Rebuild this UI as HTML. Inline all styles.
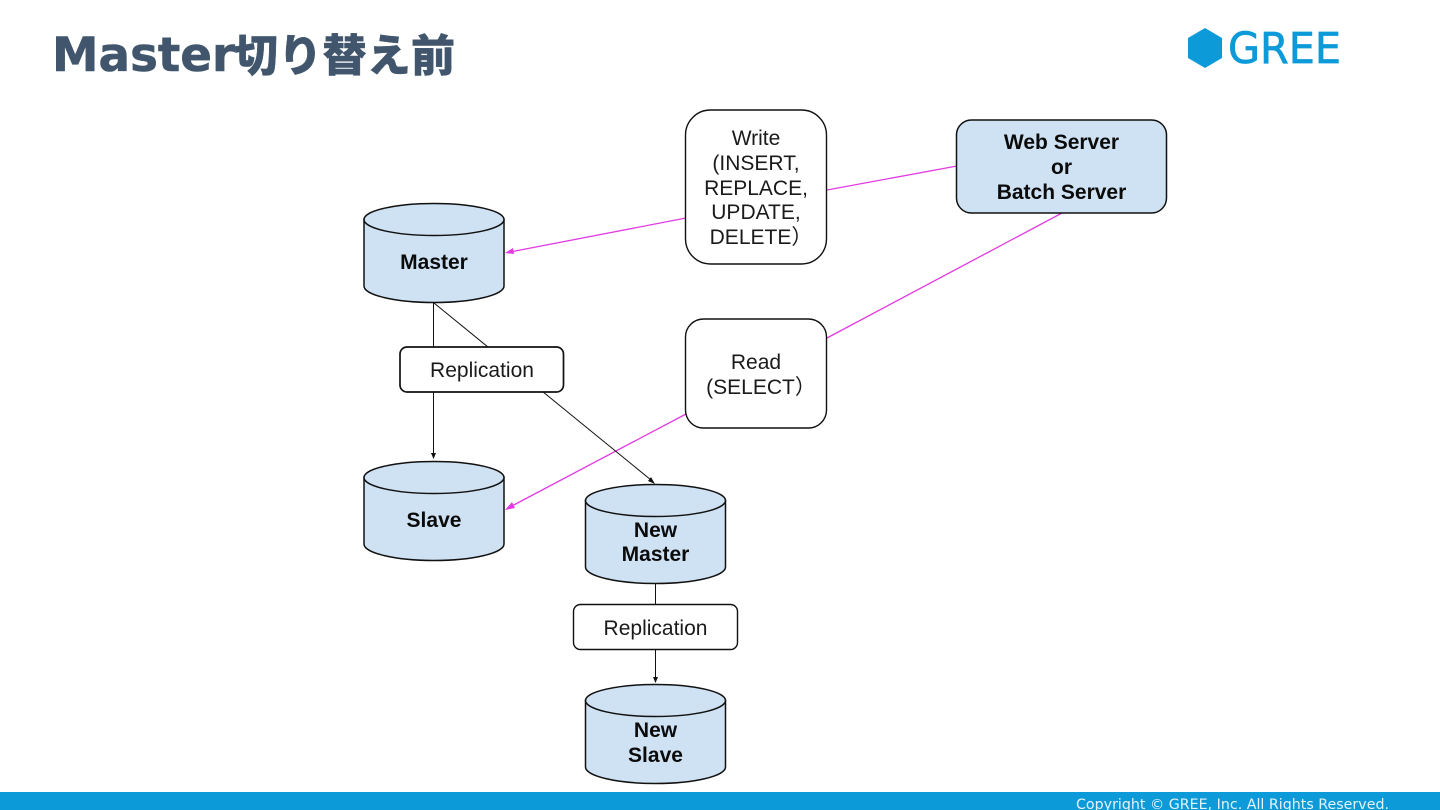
<!DOCTYPE html>
<html>
<head>
<meta charset="utf-8">
<style>
html,body{margin:0;padding:0;background:#fff;width:1440px;height:810px;overflow:hidden}
svg{display:block}
.l{font-family:"Liberation Sans","Noto Sans CJK JP",sans-serif;font-size:21px;fill:#1a1a1a;text-anchor:middle}
.b{font-family:"Liberation Sans",sans-serif;font-size:21px;font-weight:bold;fill:#0b0b0b;text-anchor:middle}
.c{fill:#cfe2f3;stroke:#111;stroke-width:1.5}
.r{fill:#fff;stroke:#111;stroke-width:1.4}
.k{stroke:#111;stroke-width:1;fill:none}
.m{stroke:#e23be2;stroke-width:1.3;fill:none}
</style>
</head>
<body>
<svg width="1440" height="810" viewBox="0 0 1440 810" xmlns="http://www.w3.org/2000/svg">
<defs>
<g id="cyl">
<path class="c" d="M0 16.500V83C0 92 31 99.500 70 99.500S140 92 140 83V16.500Z"/>
<ellipse class="c" cx="70" cy="16.500" rx="70" ry="16"/>
</g>
</defs>

<text x="52" y="71" font-family="'DejaVu Sans',sans-serif" font-weight="bold" font-size="47" fill="#41566c" stroke="#41566c" stroke-width="0.6" textLength="183" lengthAdjust="spacingAndGlyphs">Master</text>
<text x="234" y="71" font-family="'Noto Sans CJK JP',sans-serif" font-weight="900" font-size="44" fill="#41566c" stroke="#41566c" stroke-width="0.4" textLength="221" lengthAdjust="spacing">切り替え前</text>

<polygon points="1205,28 1222,38 1222,58 1205,68 1188,58 1188,38" fill="#0c9ad8"/>
<text x="1228" y="63" font-family="'DejaVu Sans',sans-serif" font-size="43" fill="#0c9ad8" stroke="#0c9ad8" stroke-width="0.7" textLength="113" lengthAdjust="spacingAndGlyphs">GREE</text>

<line class="m" x1="686" y1="218" x2="510" y2="252"/>
<polygon points="505,253 513,248 514,254" fill="#e23be2"/>
<line class="m" x1="827" y1="190" x2="957" y2="166"/>
<line class="m" x1="827" y1="338" x2="1062" y2="213"/>
<line class="m" x1="686" y1="414" x2="510" y2="507"/>
<polygon points="505,510 512,502 515,508" fill="#e23be2"/>

<line class="k" x1="433.500" y1="303" x2="433.500" y2="455"/>
<polygon points="433.500,459 431,453 436,453" fill="#111"/>
<line class="k" x1="434" y1="303" x2="651" y2="480"/>
<polygon points="655,484 648,481 651,477" fill="#111"/>
<line class="k" x1="655.500" y1="583" x2="655.500" y2="678"/>
<polygon points="655.500,683 653,677 658,677" fill="#111"/>

<rect class="r" x="685.500" y="110" width="141" height="154" rx="25"/>
<text class="l" x="756" y="145">Write</text>
<text class="l" x="756" y="170">(INSERT,</text>
<text class="l" x="756" y="195">REPLACE,</text>
<text class="l" x="756" y="219">UPDATE,</text>
<text class="l" x="761" y="244">DELETE）</text>

<rect class="r" x="685.500" y="319" width="141" height="109" rx="18"/>
<text class="l" x="756" y="369">Read</text>
<text class="l" x="761" y="394">(SELECT）</text>

<rect class="c" x="956.500" y="120" width="210" height="93" rx="15"/>
<text class="b" x="1061.500" y="149">Web Server</text>
<text class="b" x="1061.500" y="174">or</text>
<text class="b" x="1061.500" y="199">Batch Server</text>

<rect class="r" x="400" y="347" width="163.500" height="45" rx="7" style="stroke-width:1.700"/>
<text class="l" x="482" y="377">Replication</text>
<rect class="r" x="573.500" y="604.500" width="164" height="45" rx="7"/>
<text class="l" x="655.500" y="635">Replication</text>

<use href="#cyl" x="364" y="203"/>
<text class="b" x="434" y="269">Master</text>
<use href="#cyl" x="364" y="461"/>
<text class="b" x="434" y="527">Slave</text>
<use href="#cyl" x="585.500" y="484"/>
<text class="b" x="655.500" y="537">New</text>
<text class="b" x="655.500" y="561">Master</text>
<use href="#cyl" x="585.500" y="684"/>
<text class="b" x="655.500" y="737">New</text>
<text class="b" x="655.500" y="762">Slave</text>

<rect x="0" y="792" width="1440" height="18" fill="#0c9ad8"/>
<text x="1076" y="809" font-family="'DejaVu Sans',sans-serif" font-size="14" fill="#e4f4fb" textLength="313" lengthAdjust="spacingAndGlyphs">Copyright © GREE, Inc. All Rights Reserved.</text>
</svg>
</body>
</html>
